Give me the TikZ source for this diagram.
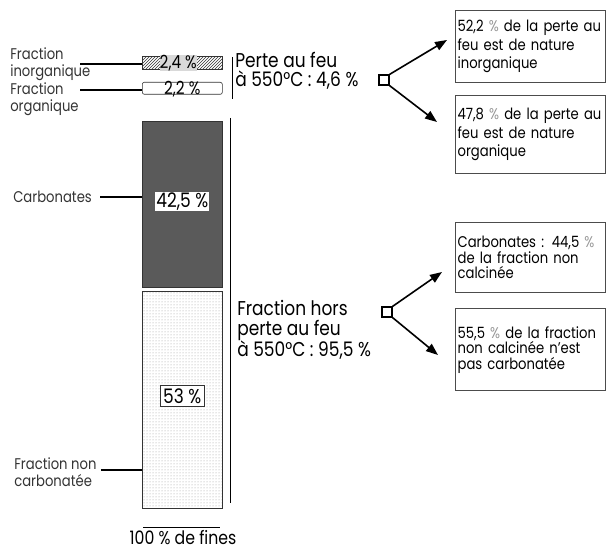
\documentclass[tikz,border=0pt]{standalone}
\usepackage{fontspec}
\setmainfont{Poppins}[FakeStretch=0.85]
\usetikzlibrary{arrows.meta,positioning,patterns}
\usepackage{xcolor}
\definecolor{mygray}{RGB}{90,90,90}
\definecolor{pctgray}{RGB}{150,150,150}

\begin{document}
\begin{tikzpicture}[x=1pt,y=-1pt,>={Triangle[length=12pt,width=9pt]},semithick]
  \tikzstyle{fracbar}=[draw=black!80,minimum width=80pt,inner sep=0pt,anchor=north west]
  \tikzstyle{sidetext}=[align=left,inner sep=0pt,font=\fontsize{15.5}{17}\selectfont,text=black!80]
  \tikzstyle{note}=[align=left,inner sep=0pt,anchor=west,font=\fontsize{20}{19.5}\selectfont]
  \tikzstyle{barvalue}=[inner sep=0pt,font=\fontsize{20}{20}\selectfont]
  \tikzstyle{infobox}=[draw=black!70,line width=1.2pt,anchor=north west,minimum width=150pt,
    text width=146pt,align=left,inner xsep=2pt,font=\fontsize{15.5}{18.5}\selectfont]
  \tikzstyle{splitbox}=[draw,line width=1.3pt,minimum size=10pt,inner sep=0pt]
  \useasboundingbox (0,0) rectangle (606,551);

  % the column
  \node[fracbar,fill=black!35,pattern=north east lines,pattern color=black!80,minimum height=13pt] (inorg) at (142,56) {};
  \node[fracbar,rounded corners=2pt,minimum height=12pt] (org) at (142,82) {};
  \node[fracbar,fill=mygray,minimum height=166pt] (carb) at (142,121) {};
  \node[fracbar,pattern=dots,pattern color=black!40,minimum height=217pt] (noncarb) at (142,291) {};

  \node[barvalue,fill=black!15,font=\fontsize{18}{18}\selectfont] (inorgv) at ([xshift=-4pt]inorg) {2,4 \%};
  \node[barvalue,font=\fontsize{18}{18}\selectfont] (orgv) at ([yshift=-1pt]org) {2,2 \%};
  \node[barvalue,fill=white,inner sep=1pt] (carbv) at ([yshift=3pt]carb) {42,5 \%};
  \node[barvalue,draw=black!80,fill=white,inner sep=3pt] (noncarbv) at ([yshift=4pt]noncarb) {53 \%};

  \draw[line width=1.2pt] ([xshift=1pt,yshift=-19pt]noncarb.south west) -- ([xshift=-3pt,yshift=-19pt]noncarb.south east);
  \node[anchor=base,inner sep=0pt,font=\fontsize{18.5}{18}\selectfont] (fines) at (183,544) {100 \% de fines};

  % left labels
  \node[sidetext,anchor=north west] (inorgtxt) at (10,47) {Fraction\\inorganique};
  \node[sidetext,anchor=north west] (orgtxt) at (10,82) {Fraction\\organique};
  \node[sidetext,anchor=west] (carbtxt) at (13,197) {Carbonates};
  \node[sidetext,anchor=west] (noncarbtxt) at (14,472) {Fraction non\\carbonatée};
  \coordinate (inorgend) at (80,64);
  \coordinate (orgend) at (80,90);
  \draw[line width=1.2pt] (inorgend) -- (inorgend -| inorg.west);
  \draw[line width=1.2pt] (orgend) -- (orgend -| org.west);
  \draw[line width=1.2pt] ([xshift=8pt]carbtxt.east) -- (carbtxt.east -| carb.west);
  \draw[line width=1.2pt] ([xshift=4pt,yshift=2pt]noncarbtxt.east) -- ([yshift=2pt]noncarbtxt.east -| noncarb.west);

  % brackets
  \draw[line width=1.2pt] ([xshift=10pt,yshift=-1pt]inorg.north east) -- ([xshift=10pt,yshift=-4pt]org.south east);
  \draw[line width=1.2pt] ([xshift=8pt,yshift=3pt]carb.north east) -- ([xshift=8pt,yshift=6pt]noncarb.south east);

  \node[note] (loss) at (235,71) {Perte au feu\\à 550°C : 4,6 \%};
  \node[note] (rest) at (237,330) {Fraction hors\\perte au feu\\à 550°C : 95,5 \%};

  % splits
  \node[splitbox] (s1) at (384,80) {};
  \node[splitbox] (s2) at (387,312) {};
  \coordinate (t1) at (447,40);
  \coordinate (t2) at (437,122);
  \coordinate (t3) at (442,272);
  \coordinate (t4) at (438,355);
  \draw[->,line width=1.6pt] (s1.north east) -- (t1);
  \draw[->,line width=1.6pt] (s1.south east) -- (t2);
  \draw[->,line width=1.6pt] (s2.north east) -- (t3);
  \draw[->,line width=1.6pt] (s2.south east) -- (t4);

  % results
  \node[infobox,minimum height=72pt] (b1) at (455,10) {52,2 {\color{pctgray}\%} de la perte au\\feu est de nature\\inorganique};
  \node[infobox,minimum height=78pt] (b2) at (455,95) {47,8 {\color{pctgray}\%} de la perte au\\feu est de nature\\organique};
  \node[infobox,minimum height=70pt,font=\fontsize{15.5}{15.5}\selectfont] (b3) at (455,222) {Carbonates : 44,5 {\color{pctgray}\%}\\de la fraction non\\calcinée};
  \node[infobox,minimum height=82pt,font=\fontsize{15.5}{15.5}\selectfont] (b4) at (455,308) {55,5 {\color{pctgray}\%} de la fraction\\non calcinée n'est\\pas carbonatée};
\end{tikzpicture}
\end{document}
